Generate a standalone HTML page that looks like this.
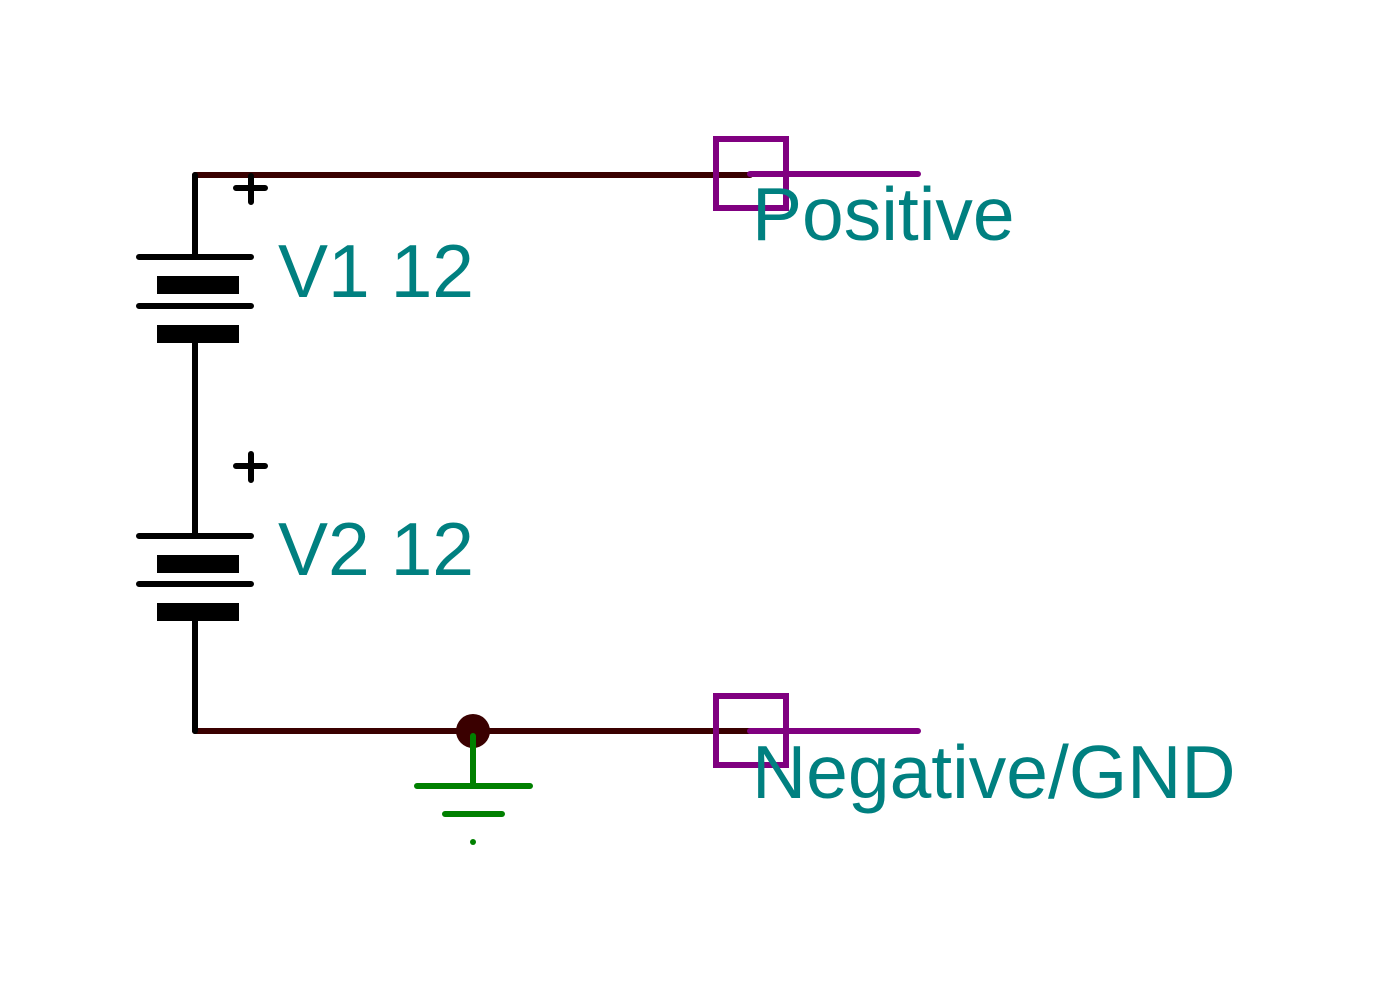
<!DOCTYPE html>
<html><head><meta charset="utf-8"><style>html,body{margin:0;padding:0;background:#fff}svg{display:block}</style></head>
<body>
<svg width="1377" height="982" viewBox="0 0 1377 982" xmlns="http://www.w3.org/2000/svg">
<g stroke-linecap="round" fill="none">
<path d="M195 175 H750" stroke="#3a0000" stroke-width="6"/>
<path d="M195 731 H750" stroke="#3a0000" stroke-width="6"/>
<path d="M750 174 H918 M750 731 H918" stroke="#800080" stroke-width="6"/>
<rect x="716" y="139" width="70" height="69" stroke="#800080" stroke-width="6" stroke-linecap="butt"/>
<rect x="716" y="696" width="70" height="69" stroke="#800080" stroke-width="6" stroke-linecap="butt"/>
<g stroke="#000" stroke-width="6">
<path d="M195 175 V257 M195 343 V536 M195 621 V731"/>
<path d="M139 257 H251 M139 306 H251 M139 536 H251 M139 584 H251"/>
<path d="M236 188 H265 M251 176 V202 M236 466 H265 M251 454 V480"/>
</g>
</g>
<g fill="#000">
<rect x="157" y="276" width="82" height="18"/>
<rect x="157" y="325" width="82" height="18"/>
<rect x="157" y="555" width="82" height="18"/>
<rect x="157" y="603" width="82" height="18"/>
</g>
<circle cx="473" cy="731" r="17" fill="#3a0000"/>
<g stroke="#008000" stroke-width="6" stroke-linecap="round">
<path d="M473 736 V786 M417 786 H530 M445 814 H502"/>
</g>
<circle cx="473" cy="842" r="3" fill="#008000"/>
<g font-family="Liberation Sans, sans-serif" font-size="75" fill="#008080">
<text x="278" y="297">V1 12</text>
<text x="278" y="575">V2 12</text>
<text x="752" y="240">Positive</text>
<text x="752" y="798">Negative/GND</text>
</g>
</svg>
</body></html>
